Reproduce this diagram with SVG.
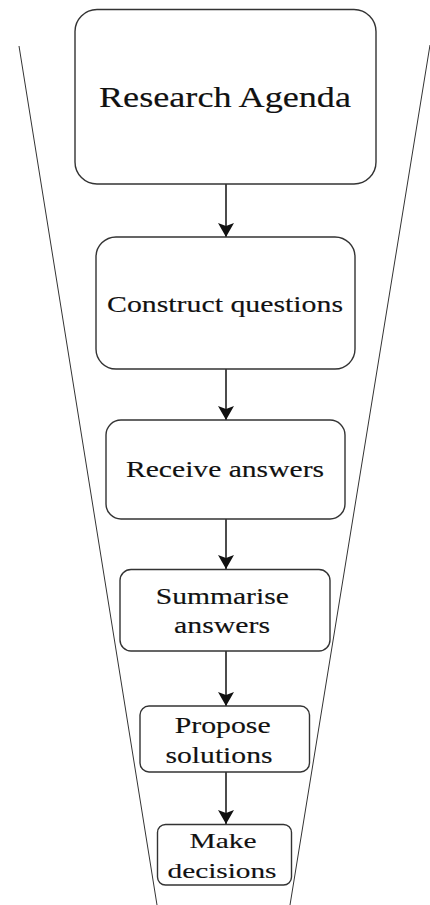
<svg xmlns="http://www.w3.org/2000/svg" width="430" height="905" viewBox="0 0 430 905">
<defs>
<style>
.box{fill:#fff;stroke:#333;stroke-width:1.4}
.lbl{fill:#111;stroke:#111;stroke-width:0.15;text-anchor:middle}
.conn{stroke:#111;stroke-width:1.5;fill:none;marker-end:url(#ah)}
.funnel{stroke:#333;stroke-width:1;fill:none}
</style>
<marker id="ah" viewBox="-1 -9 16 18" markerWidth="16" markerHeight="18" refX="14" refY="0" orient="auto" markerUnits="userSpaceOnUse">
<path d="M0,-8 L14,0 L0,8 L3,0 Z" fill="#111"/>
</marker>
</defs>
<rect width="430" height="905" fill="#fff"/>
<g id="funnel">
<line class="funnel" x1="19" y1="46" x2="157" y2="905"/>
<line class="funnel" x1="430" y1="45" x2="290" y2="905"/>
</g>
<g id="connectors">
<line class="conn" x1="226" y1="184" x2="226" y2="237"/>
<line class="conn" x1="226" y1="369" x2="226" y2="420"/>
<line class="conn" x1="226" y1="519" x2="226" y2="569"/>
<line class="conn" x1="226" y1="651" x2="226" y2="706"/>
<line class="conn" x1="226" y1="772" x2="226" y2="824"/>
</g>
<g font-family="Liberation Serif, Times New Roman, serif">
<g id="n1">
<rect class="box" x="75" y="9.5" width="301" height="174.5" rx="22"/>
<text class="lbl" x="225" y="107" font-size="30" textLength="252" lengthAdjust="spacingAndGlyphs">Research Agenda</text>
</g>
<g id="n2">
<rect class="box" x="96" y="237" width="259" height="132" rx="20"/>
<text class="lbl" x="225" y="311.5" font-size="24" textLength="236" lengthAdjust="spacingAndGlyphs">Construct questions</text>
</g>
<g id="n3">
<rect class="box" x="106" y="420" width="239" height="99" rx="15"/>
<text class="lbl" x="225" y="477" font-size="24" textLength="198" lengthAdjust="spacingAndGlyphs">Receive answers</text>
</g>
<g id="n4">
<rect class="box" x="120" y="569.5" width="210" height="81.5" rx="11"/>
<text class="lbl" x="222.3" y="604" font-size="23" textLength="133" lengthAdjust="spacingAndGlyphs">Summarise</text>
<text class="lbl" x="222" y="633.3" font-size="23" textLength="96" lengthAdjust="spacingAndGlyphs">answers</text>
</g>
<g id="n5">
<rect class="box" x="140" y="706" width="169.5" height="66" rx="9"/>
<text class="lbl" x="222.7" y="733.3" font-size="23" textLength="96" lengthAdjust="spacingAndGlyphs">Propose</text>
<text class="lbl" x="219" y="762.7" font-size="23" textLength="107" lengthAdjust="spacingAndGlyphs">solutions</text>
</g>
<g id="n6">
<rect class="box" x="157.5" y="824.5" width="134" height="60.5" rx="8"/>
<text class="lbl" x="223" y="848.3" font-size="22" textLength="67" lengthAdjust="spacingAndGlyphs">Make</text>
<text class="lbl" x="222" y="878.3" font-size="22" textLength="109" lengthAdjust="spacingAndGlyphs">decisions</text>
</g>
</g>
</svg>
